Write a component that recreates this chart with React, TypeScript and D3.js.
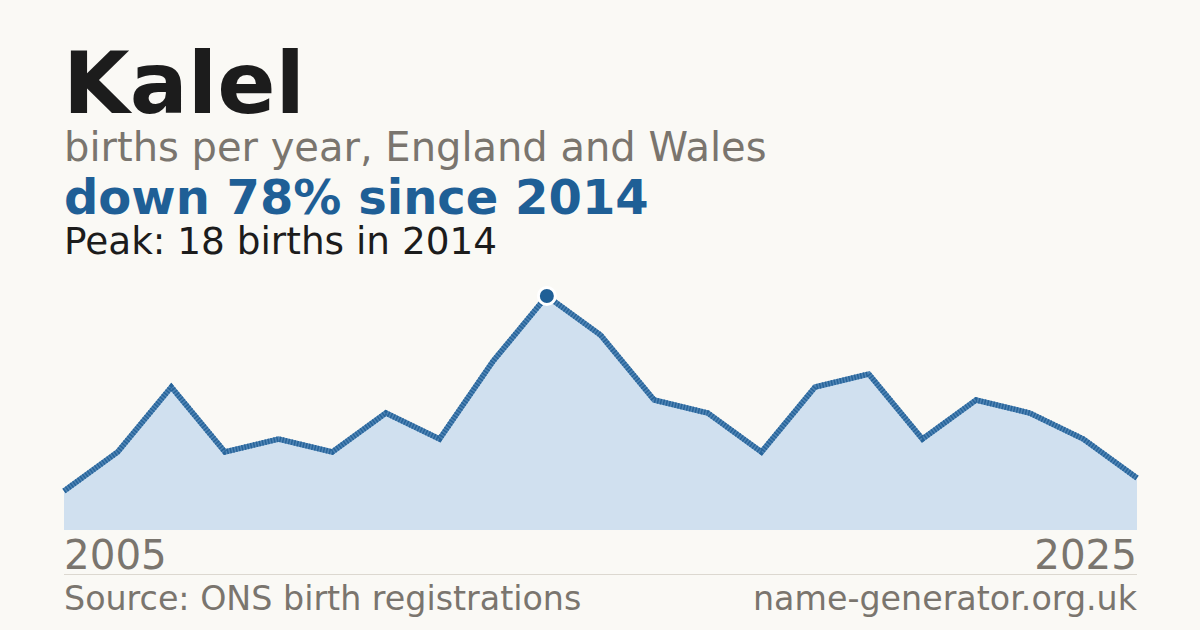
import React from "react";
import * as d3 from "d3";

const title = "Kalel";
const subtitle = "births per year, England and Wales";
const headline = "down 78% since 2014";
const peakNote = "Peak: 18 births in 2014";
const sourceText = "Source: ONS birth registrations";
const siteText = "name-generator.org.uk";

const years = [2005, 2006, 2007, 2008, 2009, 2010, 2011, 2012, 2013, 2014, 2015, 2016, 2017, 2018, 2019, 2020, 2021, 2022, 2023, 2024, 2025];
const births = [3, 6, 11, 6, 7, 6, 9, 7, 13, 18, 15, 10, 9, 6, 11, 12, 7, 10, 9, 7, 4];
const peakYear = 2014;

const W = 1200;
const H = 630;
const left = 64;
const right = 1137;
const baseY = 530;
const topY = 296;

const FONT = "'DejaVu Sans', Verdana, sans-serif";

export default function App() {
  const x = d3.scaleLinear().domain([years[0], years[years.length - 1]]).range([left, right]);
  const y = d3.scaleLinear().domain([0, d3.max(births) as number]).range([baseY, topY]);
  const pts: [number, number][] = years.map((yr, i) => [yr, births[i]]);
  const area = d3.area<[number, number]>().x((d) => x(d[0])).y0(baseY).y1((d) => y(d[1]))(pts) as string;
  const line = d3.line<[number, number]>().x((d) => x(d[0])).y((d) => y(d[1]))(pts) as string;
  const pi = years.indexOf(peakYear);

  return (
    <div style={{ position: "fixed", left: 0, top: 0, width: W, height: H }}>
      <svg width={W} height={H} viewBox={`0 0 ${W} ${H}`} style={{ display: "block" }}>
        <rect x={0} y={0} width={W} height={H} fill="#faf9f5" />
        <text x={left - 1} y={113} fontFamily={FONT} fontWeight="bold" fontSize={86} fill="#1c1c1c">{title}</text>
        <text x={left} y={161} fontFamily={FONT} fontSize={40} fill="#7a756e">{subtitle}</text>
        <text x={left} y={214} fontFamily={FONT} fontWeight="bold" fontSize={48} fill="#1f5f96">{headline}</text>
        <text x={left} y={254} fontFamily={FONT} fontSize={37.4} fill="#1c1c1c">{peakNote}</text>

        <path d={area} fill="#d0e0ef" />
        <path d={line} fill="none" stroke="#4f84b4" strokeWidth={5.5} strokeLinejoin="miter" />
        <path d={line} fill="none" stroke="#27649a" strokeWidth={5.5} strokeDasharray="1.5 1.5" strokeLinejoin="miter" />
        <circle cx={x(peakYear)} cy={y(births[pi])} r={8.5} fill="#1f5f96" stroke="#ffffff" strokeWidth={3} />

        <text x={left} y={569} fontFamily={FONT} fontSize={40.4} fill="#7a756e">{years[0]}</text>
        <text x={right} y={569} fontFamily={FONT} fontSize={40.4} fill="#7a756e" textAnchor="end">{years[years.length - 1]}</text>
        <line x1={left} x2={right} y1={574.5} y2={574.5} stroke="#dcd8d0" strokeWidth={1} />
        <text x={left} y={610} fontFamily={FONT} fontSize={33.3} fill="#7a756e">{sourceText}</text>
        <text x={right} y={610} fontFamily={FONT} fontSize={33.3} fill="#7a756e" textAnchor="end">{siteText}</text>
      </svg>
    </div>
  );
}
